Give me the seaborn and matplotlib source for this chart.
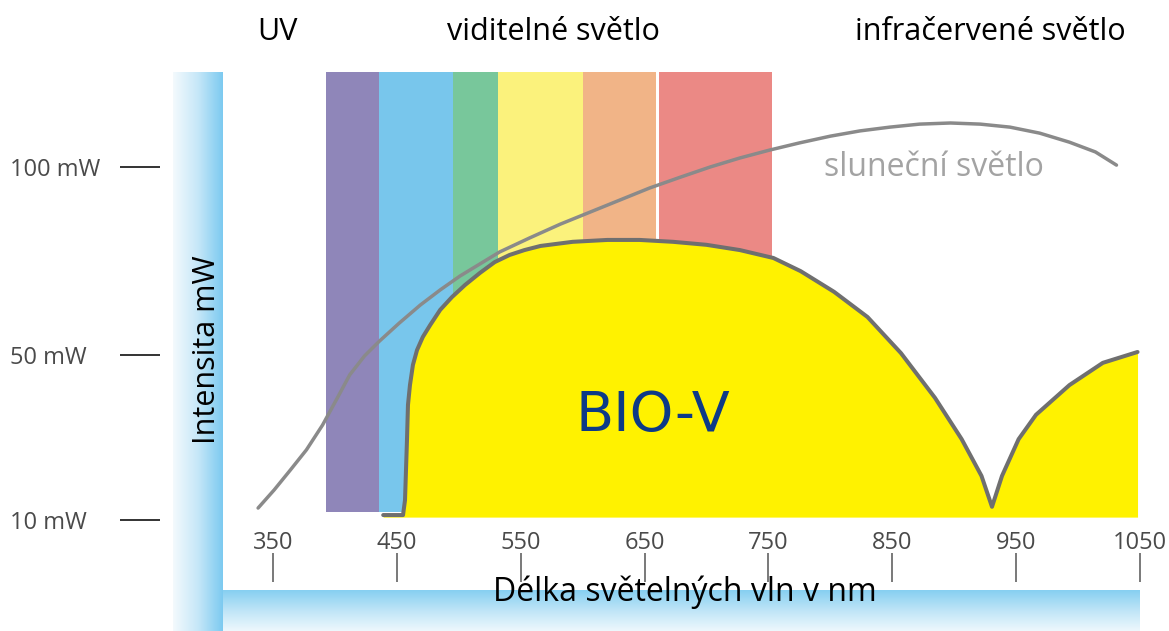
import numpy as np
import seaborn as sns
import matplotlib.pyplot as plt
from matplotlib.colors import LinearSegmentedColormap

# Values: wavelength in nm, intensity in mW
sun_nm = [338, 351, 364, 377, 390, 402, 412, 424, 436, 452, 469, 485, 501, 517, 533, 557, 582, 606,
          630, 654, 679, 703, 727, 751, 775, 800, 824, 848, 872, 897, 921, 945, 969, 993, 1014, 1031]
sun_mw = [12.9, 17.3, 22.1, 27.0, 33.0, 39.6, 45.2, 49.8, 53.7, 58.5, 63.3, 67.3, 71.0, 74.2, 77.4,
          81.1, 84.8, 88.0, 91.2, 94.4, 97.3, 100.0, 102.4, 104.5, 106.4, 108.2, 109.6, 110.6, 111.4,
          111.7, 111.4, 110.6, 109.0, 106.6, 104.0, 100.5]

bio_nm = [439, 455, 456.6, 457.4, 458.2, 459, 460.6, 463, 466.3, 471, 477, 485, 494.5, 505, 517, 529,
          541, 553, 566, 592, 620, 646, 673, 700, 727, 754, 776, 803, 830, 857, 884.5, 906, 922, 930.5,
          938.6, 952, 966, 993, 1020, 1048]
bio_mw = [11.2, 11.2, 14.8, 22.1, 29.4, 37.9, 42.7, 47.6, 51.3, 54.8, 58.0, 62.0, 65.4, 68.6, 71.8,
          74.7, 76.6, 77.9, 79.0, 80.1, 80.6, 80.6, 80.1, 79.3, 77.9, 75.8, 72.3, 66.8, 60.1, 50.5,
          39.6, 29.6, 20.7, 13.2, 20.7, 29.6, 35.5, 42.7, 48.1, 50.8]
bio_base = 10.7

# Visible light colour bands (start nm, end nm)
band_start = [393, 436, 495, 532, 600, 662]
band_end = [436, 495, 532, 600, 659, 753]
band_colors = ["#8f86b9", "#78c6ec", "#78c79b", "#fbf27c", "#f1b487", "#eb8985"]
band_low, band_high = 11.9, 125.3

x_ticks = [350, 450, 550, 650, 750, 850, 950, 1050]
y_ticks = [10, 50, 100]
y_labels = ["10 mW", "50 mW", "100 mW"]

W, H = 1169, 631


def px(x, y):
    return x / W, 1 - y / H


# the drawn y axis is not evenly spaced: 10->50 mW and 50->100 mW differ
mw_knots = [-100, 10, 50, 100, 400]
px_knots = [-453.75, 0, 165, 353, 1481]


def fwd(v):
    return np.interp(v, mw_knots, px_knots)


def inv(p):
    return np.interp(p, px_knots, mw_knots)


sns.set_style("white")
plt.rcParams["font.family"] = ["Open Sans", "DejaVu Sans"]

fig = plt.figure(figsize=(W / 100, H / 100), dpi=100)

# background layer with the two light-blue gradient bars
bg = fig.add_axes([0, 0, 1, 1])
bg.set_xlim(0, W)
bg.set_ylim(H, 0)
bg.axis("off")
left_cmap = LinearSegmentedColormap.from_list("lb", ["#f4fafd", "#c6e7f8", "#7ccaf0"])
bottom_cmap = LinearSegmentedColormap.from_list("bb", ["#86cff1", "#bfe5f7", "#eef8fd"])
grad = np.linspace(0, 1, 256)
bg.imshow(grad.reshape(1, -1), cmap=left_cmap, extent=[173, 223, H, 72], aspect="auto")
bg.imshow(grad.reshape(-1, 1), cmap=bottom_cmap, extent=[223, 1140, H, 590], aspect="auto")

# main chart axes
ax = fig.add_axes([160 / W, (H - 582) / H, (W - 160) / W, 582 / H])
ax.set_facecolor("none")
ax.set_yscale("function", functions=(fwd, inv))
ax.set_xlim(258.8, 1073.4)
ax.set_ylim(-5.03, 144.41)

for s, e, c in zip(band_start, band_end, band_colors):
    ax.fill_between([s, e], band_low, band_high, color=c, lw=0, zorder=1)

ax.fill_between(bio_nm, bio_mw, bio_base, color="#fff200", lw=0, zorder=2)
sns.lineplot(x=bio_nm, y=bio_mw, color="#6f6f6f", lw=2.9, ax=ax, zorder=3)
sns.lineplot(x=sun_nm, y=sun_mw, color="#8a8a8a", lw=2.5, ax=ax, zorder=4)

for sp in ax.spines.values():
    sp.set_visible(False)

ax.set_xticks(x_ticks)
ax.set_xticklabels([str(t) for t in x_ticks])
ax.tick_params(axis="x", direction="in", length=21, width=1.1, color="#555555",
               pad=-37, labelsize=17, labelcolor="#4a4a4a", bottom=True)
ax.set_yticks(y_ticks)
ax.set_yticklabels(y_labels, ha="left")
ax.tick_params(axis="y", direction="out", length=29, width=1.4, color="#333333",
               pad=79, labelsize=17, labelcolor="#4a4a4a", left=True)
ax.minorticks_off()

fig.text(*px(277, 32), "UV", fontsize=22, color="black", ha="center", va="center")
fig.text(*px(553, 32), "viditelné světlo", fontsize=22, color="black", ha="center", va="center")
fig.text(*px(990, 32), "infračervené světlo", fontsize=22, color="black", ha="center", va="center")
fig.text(*px(934, 167), "sluneční světlo", fontsize=23, color="#a3a3a3", ha="center", va="center")
fig.text(*px(653, 416), "BIO-V", fontsize=40, color="#0d3a87", ha="center", va="center",
         family="DejaVu Sans")
fig.text(*px(207, 350), "Intensita mW", fontsize=22, color="black", rotation=90,
         ha="center", va="center")
fig.text(*px(685, 592), "Délka světelných vln v nm", fontsize=23, color="black",
         ha="center", va="center")

fig.savefig("out.png", dpi=100)
